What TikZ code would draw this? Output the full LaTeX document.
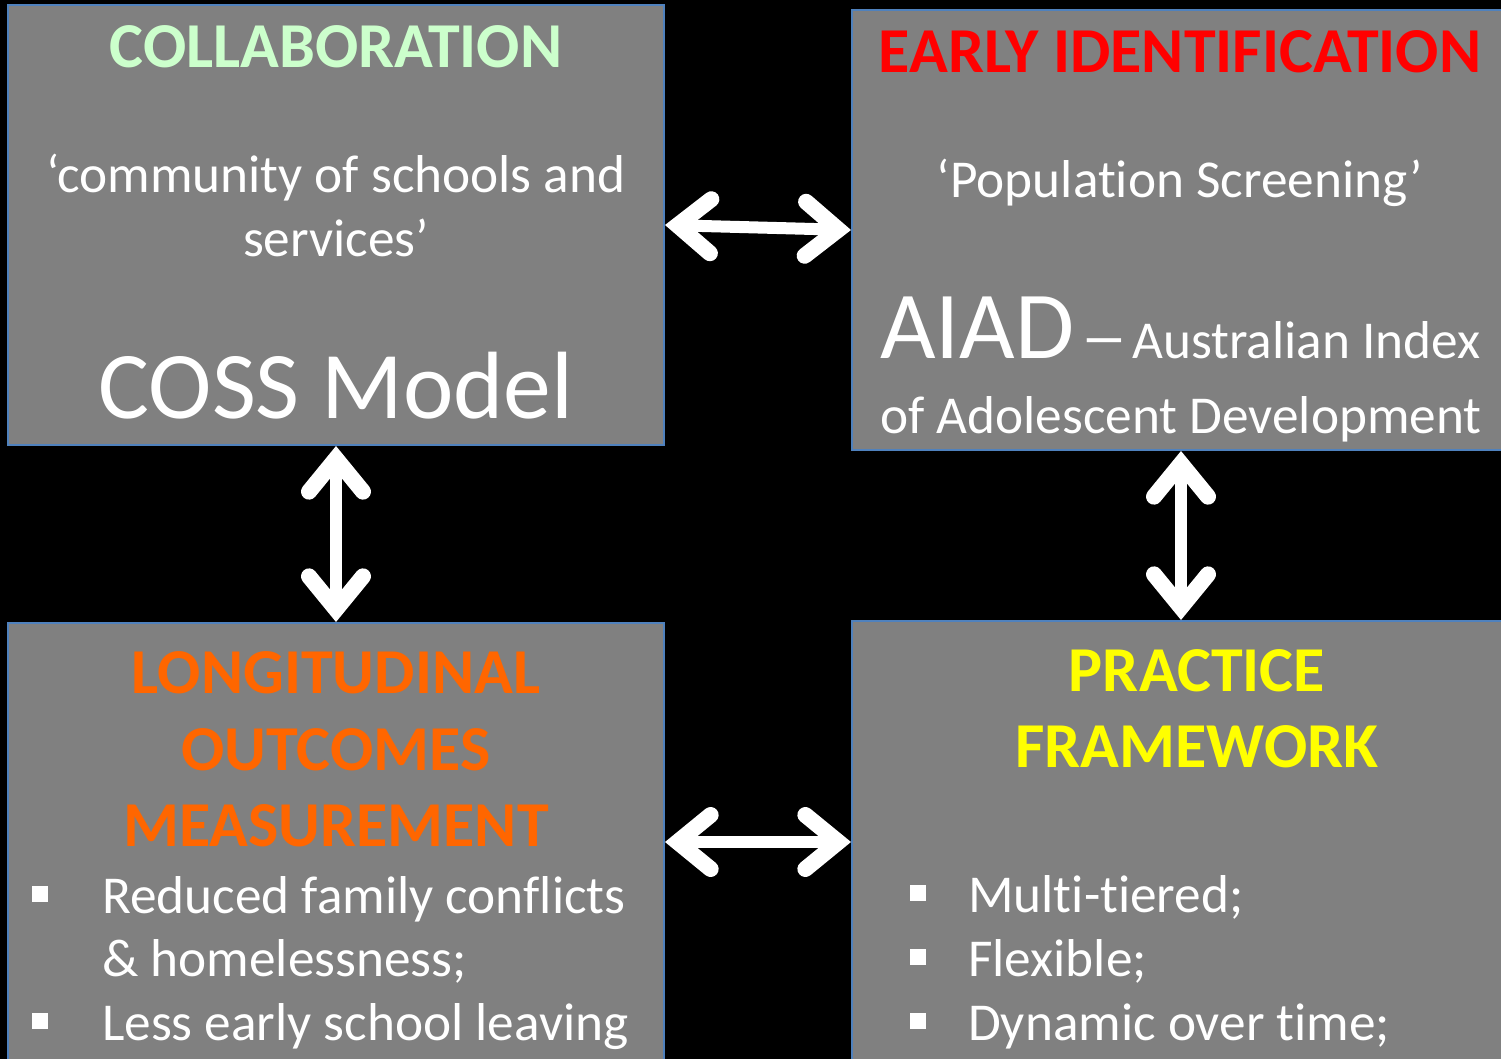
\documentclass[tikz,border=0pt]{standalone}
\usepackage{fontspec}
\usepackage{graphicx}
\setmainfont{Carlito}[Ligatures=NoCommon]
\usetikzlibrary{arrows.meta}
\definecolor{boxgray}{HTML}{808080}
\definecolor{boxblue}{HTML}{4F81BD}
\definecolor{collab}{HTML}{CCFFCC}
\definecolor{earlyred}{HTML}{FF0000}
\definecolor{longor}{HTML}{FF6600}
\definecolor{practy}{HTML}{FFFF00}
\begin{document}
\begin{tikzpicture}[x=1pt,y=-1pt,
  box/.style={fill=boxgray, draw=boxblue, line width=2pt, inner sep=0pt},
  hd/.style={anchor=base, inner sep=0pt, font=\fontsize{64}{77}\selectfont\bfseries},
  bd/.style={anchor=base, inner sep=0pt, text=white, font=\fontsize{53.3}{64}\selectfont},
  big/.style={anchor=base, inner sep=0pt, text=white, font=\fontsize{95.6}{110}\selectfont},
  bul/.style={fill=white, minimum size=16pt, inner sep=0pt},
  bidir/.style={draw=white, line width=12pt,
    {Straight Barb[length=33pt, width=54pt, line width=16pt, line cap=round, line join=miter]}-{Straight Barb[length=33pt, width=54pt, line width=16pt, line cap=round, line join=miter]}}
]
\fill[black] (0,0) rectangle (1501,1059);
\useasboundingbox (0,0) rectangle (1501,1059);

\node[box, minimum width=656pt, minimum height=440pt] (TL) at (336,225) {};
\node[box, minimum width=658pt, minimum height=440pt] (TR) at (1181,230) {};
\node[box, minimum width=656pt, minimum height=438pt] (BL) at (336,842) {};
\node[box, minimum width=658pt, minimum height=442pt] (BR) at (1181,842) {};

% top-left
\node[hd, text=collab] (tl1) at (336,68) {COLLABORATION};
\node[bd] (tl2) at (336,193) {‘community of schools and};
\node[bd] (tl3) at (336,257) {services’};
\node[big] (tl4) at (336,418) {COSS Model};

% top-right
\node[hd, text=earlyred] (tr1) at (1180,73) {EARLY IDENTIFICATION};
\node[bd] (tr2) at (1180,198) {‘Population Screening’};
\node[anchor=base west, inner sep=0pt, text=white] (tr3) at (880,358) {{\fontsize{96}{110}\selectfont AIAD}\hspace{6pt}{\fontsize{64}{77}\selectfont\scalebox{1.5}[1]{–}}\hspace{4pt}{\fontsize{53.3}{64}\selectfont Australian Index}};
\node[bd, anchor=base west] (tr4) at (880,433) {of Adolescent Development};

% bottom-left
\node[hd, text=longor] (bl1) at (336,693) {LONGITUDINAL};
\node[hd, text=longor] (bl2) at (336,770) {OUTCOMES};
\node[hd, text=longor] (bl3) at (336,846) {MEASUREMENT};
\node[bul] (blb1) at (40,894) {};
\node[bd, anchor=base west] (blt1) at (102,913) {Reduced family conflicts};
\node[bd, anchor=base west] (blt2) at (102,976) {\& homelessness;};
\node[bul] (blb2) at (40,1021) {};
\node[bd, anchor=base west] (blt3) at (102,1040) {Less early school leaving};

% bottom-right
\node[hd, text=practy] (br1) at (1197,691) {PRACTICE};
\node[hd, text=practy] (br2) at (1197,767) {FRAMEWORK};
\node[bul] (brb1) at (918,893) {};
\node[bd, anchor=base west] (brt1) at (968,912) {Multi-tiered;};
\node[bul] (brb2) at (918,957) {};
\node[bd, anchor=base west] (brt2) at (968,976) {Flexible;};
\node[bul] (brb3) at (918,1021) {};
\node[bd, anchor=base west] (brt3) at (968,1040) {Dynamic over time;};

% connectors
\draw[bidir] (TL.east) -- (TR.west);
\draw[bidir] (BL.east) -- (BR.west);
\draw[bidir] (TL.south) -- (BL.north);
\draw[bidir] (TR.south) -- (BR.north);
\end{tikzpicture}
\end{document}
